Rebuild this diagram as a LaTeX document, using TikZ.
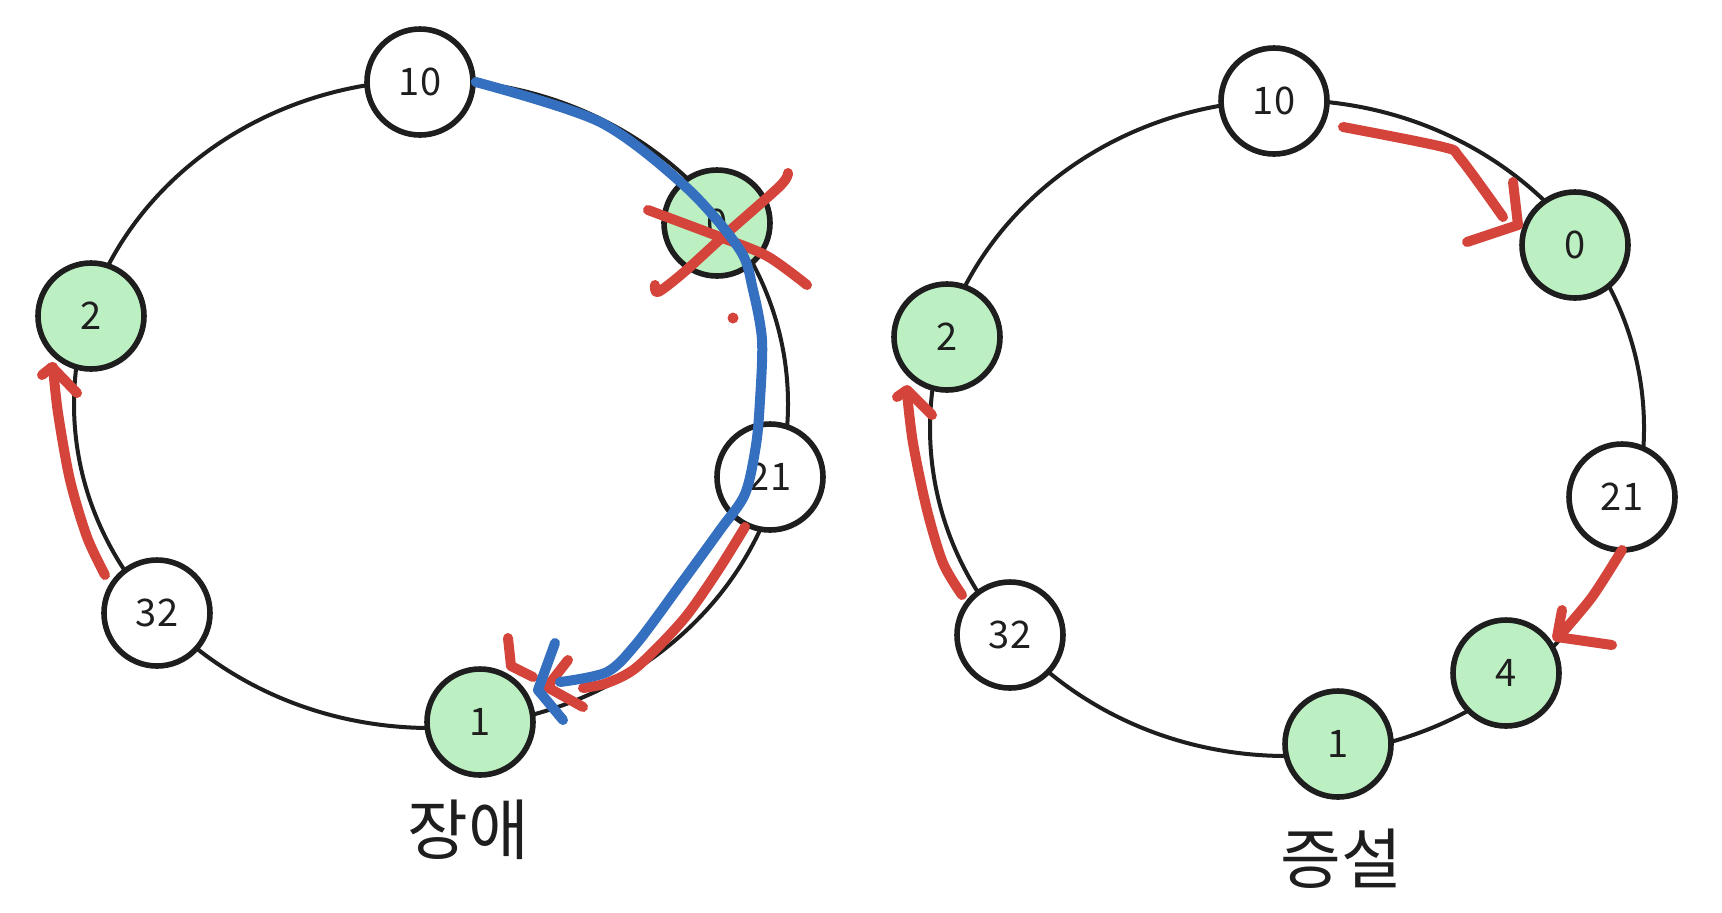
\documentclass[tikz,border=0pt]{standalone}
\usepackage{fontspec}
\newfontfamily\kr{Noto Sans CJK KR}
\definecolor{nodegreen}{HTML}{BCF0C2}
\definecolor{sketchred}{HTML}{D4443A}
\definecolor{sketchblue}{HTML}{3570C0}
\definecolor{ink}{HTML}{1E1E1E}
\tikzset{
  ringline/.style={draw=ink, line width=2pt},
  ringnode/.style={circle, draw=ink, line width=2.8pt, minimum size=53pt, inner sep=0pt,
    font=\kr\fontsize{19}{19}\selectfont, text=ink},
  hotnode/.style={ringnode, fill=nodegreen},
  coldnode/.style={ringnode, fill=white},
  redstroke/.style={draw=sketchred, line width=5pt, line cap=round, line join=round},
  bluestroke/.style={draw=sketchblue, line width=5pt, line cap=round, line join=round},
  caption/.style={font=\kr\fontsize{33}{33}\selectfont, text=ink}
}
\begin{document}
\begin{tikzpicture}[x=0.5pt,y=-0.5pt]
\useasboundingbox[fill=white] (0,0) rectangle (1722,912);

% ---------- left ring (장애) ----------
\draw[ringline] (431,404) ellipse [x radius=357, y radius=324];

\node[coldnode] (L10) at (420,82) {10};
\node[hotnode]  (L0)  at (717,223) {0};
\node[hotnode]  (L2)  at (91,316) {2};
\node[coldnode] (L21) at (770,477) {21};
\node[coldnode] (L32) at (157,613) {32};
\node[hotnode]  (L1)  at (480,722) {1};
\node[caption]  (capL) at (468,830) {장애};

% red X over node 0
\draw[redstroke] plot[smooth, tension=0.5] coordinates {(648,210) (720,237) (767,256) (807,285)};
\draw[redstroke] plot[smooth, tension=0.5] coordinates {(788,173) (780,186) (727,233) (683,273) (658,292) (655,285)};
\fill[sketchred] (733,318) circle (5.5);

% red 32 -> 2
\draw[redstroke] plot[smooth, tension=0.5] coordinates {(105,575) (87,537) (70,480) (58,413) (53,367)};
\draw[redstroke] (42,375) -- (52,367) -- (77,393);

% red 21 -> 1
\draw[redstroke] plot[smooth, tension=0.5] coordinates {(745,527) (717,572) (683,620) (637,667) (607,683) (583,688)};
\draw[redstroke] (568,660) -- (547,687) -- (583,707);
\draw[redstroke] (508,638) -- (511,666) -- (533,677);

% blue 10 -> 1
\draw[bluestroke] plot[smooth, tension=0.5] coordinates {
  (L10.east) (600,122) (687,188) (740,250) (753,290) (762,340) (760,400)
  (756,445) (745,494) (720,530) (680,585) (637,643) (607,672) (560,682)};
\draw[bluestroke] (555,643) -- (538,690) -- (563,720);

% ---------- right ring (증설) ----------
\draw[ringline] (1287,428) ellipse [x radius=357, y radius=328];

\node[coldnode] (R10) at (1274,101) {10};
\node[hotnode]  (R0)  at (1575,245) {0};
\node[hotnode]  (R2)  at (947,337) {2};
\node[coldnode] (R21) at (1622,497) {21};
\node[coldnode] (R32) at (1010,635) {32};
\node[hotnode]  (R4)  at (1506,673) {4};
\node[hotnode]  (R1)  at (1338,744) {1};
\node[caption]  (capR) at (1341,859) {증설};

% red 10 -> 0
\draw[redstroke] plot[smooth, tension=0.5] coordinates {(1343,127) (1443,147) (1460,158) (1503,217)};
\draw[redstroke] (1513,182) -- (1518,225) -- (1467,242);

% red 21 -> 4
\draw[redstroke] plot[smooth, tension=0.5] coordinates {(1622,550) (1592,597) (1560,635)};
\draw[redstroke] (1562,610) -- (1557,637) -- (1612,645);

% red 32 -> 2
\draw[redstroke] plot[smooth, tension=0.5] coordinates {(962,595) (943,563) (927,510) (913,443) (907,393)};
\draw[redstroke] (897,397) -- (907,390) -- (932,415);
\end{tikzpicture}
\end{document}
